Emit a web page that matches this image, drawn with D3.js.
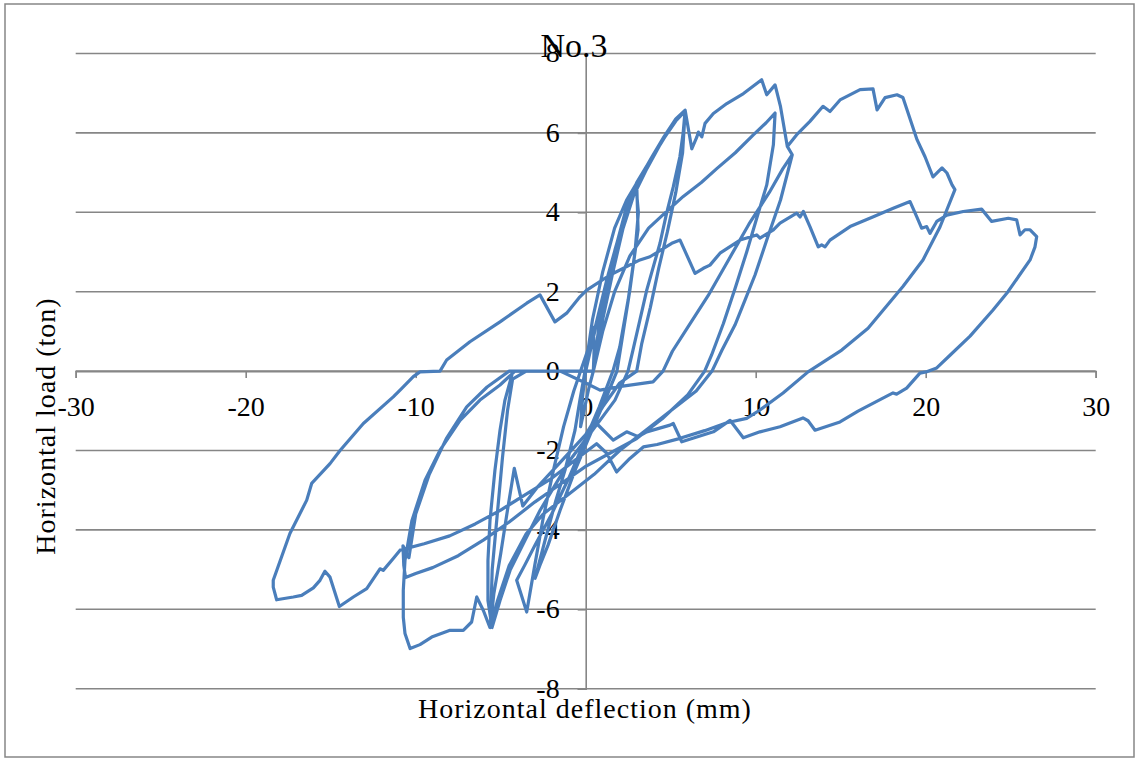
<!DOCTYPE html>
<html><head><meta charset="utf-8">
<script src="https://cdn.jsdelivr.net/npm/d3@7"></script>
<style>html,body{margin:0;padding:0;background:#fff;}svg{display:block;}</style>
</head><body>
<svg id="chart" width="1135" height="758"></svg>
<script>
// ---- data (deflection mm, load ton) ----
const title = "No.3";
const xLabel = "Horizontal deflection (mm)";
const yLabel = "Horizontal load (ton)";
const xTicks = [-30, -20, -10, 0, 10, 20, 30];
const yTicks = [-8, -6, -4, -2, 0, 2, 4, 6, 8];

const cycle0 = [[0,0],[0.25,0.6],[0.45,1.1],[0.5,0.6],[0.45,0],[0.2,-0.4],[-0.1,-1.0],[-0.3,-1.4],[-0.2,-0.7],[0,0]];
const cycleA = [[0,0],[0.55,1.03],[1.14,2.04],[1.72,3.05],[2.31,3.93],[2.72,4.44],[3.0,4.73],[3.08,3.56],[2.6,2.04],[2.13,0.78],[1.84,0],
  [1.14,-0.73],[0.37,-1.49],[-0.63,-2.5],[-1.51,-3.51],[-2.22,-4.39],[-2.69,-4.89],[-2.98,-5.22],
  [-2.39,-4.26],[-1.75,-3.25],[-1.22,-2.5],[-0.63,-1.49],[-0.34,-0.73],[-0.04,0]];
const cycleA2 = [[-0.04,0],[0.4,1.3],[1.0,2.5],[1.7,3.6],[2.4,4.3],[2.95,4.7],[3.1,4.0],[2.9,3.0],[2.5,1.8],[2.0,0.6],[1.6,0],
  [0.8,-0.9],[0,-1.7],[-1.0,-2.7],[-2.0,-3.6],[-3.0,-4.4],[-3.6,-4.9],[-4.06,-5.27],[-3.47,-6.07],
  [-3.0,-4.9],[-2.5,-3.7],[-1.9,-2.5],[-1.3,-1.4],[-0.7,-0.5],[-0.3,0]];
const cycleB1 = [[-0.3,0],[0.5,1.0],[1.24,2.3],[1.82,3.2],[2.41,4.14],[3.0,4.75],[3.78,5.3],[4.37,5.7],[5.15,6.24],[5.85,6.57],
  [5.73,5.99],[5.54,5.4],[5.15,4.64],[4.76,3.98],[4.37,3.22],[3.98,2.63],[3.59,2.04],[3.19,1.29],[2.78,0.53],[2.49,0],
  [1.72,-0.73],[0.84,-1.24],[-0.04,-1.74],[-0.92,-2.24],[-1.81,-2.88],[-2.69,-3.51],[-3.57,-4.26],[-4.45,-5.02],[-5.04,-5.78],[-5.51,-6.46],
  [-5.75,-5.78],[-5.75,-4.77],[-5.63,-3.76],[-5.34,-2.5],[-5.04,-1.49],[-4.75,-0.73],[-4.28,0],[0.45,0]];
const cycleB2 = [[0.45,0],[1.0,1.3],[1.6,2.5],[2.2,3.6],[2.8,4.4],[3.6,5.1],[4.5,5.8],[5.3,6.3],[5.85,6.55],
  [5.7,5.5],[5.3,4.5],[4.8,3.5],[4.3,2.6],[3.8,1.6],[3.3,0.7],[3.0,0],
  [2.0,-0.3],[1.0,-0.9],[0,-1.6],[-1.5,-2.3],[-2.8,-2.9],[-3.7,-3.4],[-4.2,-2.45],[-4.6,-3.5],[-5.0,-4.6],[-5.4,-5.6],[-5.6,-6.4],
  [-5.5,-5.0],[-5.2,-3.6],[-4.9,-2.2],[-4.6,-1.0],[-4.3,-0.2],[-3.5,0],[0.45,0]];
const cycleC1 = [[0.45,0],[0.8,1.2],[1.3,2.2],[1.9,3.2],[2.5,4.1],[3.1,4.8],[3.9,5.4],[4.6,5.9],[5.3,6.35],[5.85,6.57],
  [6.24,5.6],[6.54,5.9],[6.63,6.02],[6.83,5.9],[7.02,6.24],[7.51,6.49],[8.3,6.74],[9.28,6.99],[10.35,7.34],[10.65,6.96],[11.14,7.21],[11.46,6.66],[11.86,5.66],[12.15,5.45],
  [11.46,4.31],[10.65,3.3],[9.96,2.42],[9.37,1.79],[8.78,1.16],[8.02,0.53],[7.43,0],
  [6.5,-0.5],[5.0,-1.0],[3.5,-1.5],[2.0,-2.0],[0.5,-2.6],[-1,-3.1],[-2.5,-3.6],[-3.5,-4.1],[-4.5,-4.9],[-5.2,-5.8],[-5.63,-6.46],
  [-6.02,-6.03],[-6.41,-5.69],[-6.71,-6.32],[-7.2,-6.53],[-7.98,-6.53],[-9.06,-6.7],[-9.75,-6.89],[-10.33,-6.99],[-10.63,-6.61],[-10.73,-6.2],
  [-10.73,-5.52],[-10.63,-4.77],[-10.22,-3.76],[-9.45,-2.75],[-8.57,-1.99],[-7.39,-1.24],[-6.22,-0.73],[-5.04,-0.35],[-4.16,0],[0.45,0]];
const cycleC2 = [[0.45,0],[1.0,1.0],[1.7,2.0],[2.6,2.9],[3.7,3.6],[4.7,4.0],[5.74,4.4],[6.8,4.75],[7.71,5.1],[8.8,5.5],[9.86,5.95],[10.6,6.25],[11.14,6.5],
  [11.04,5.7],[10.65,4.69],[10.06,3.85],[9.47,3.0],[8.8,2.1],[8.1,1.2],[7.4,0.4],[7.0,0],
  [6,-0.6],[4.5,-1.2],[3.0,-1.7],[1.5,-2.05],[0,-2.4],[-1.5,-2.85],[-3,-3.3],[-4.5,-3.8],[-6,-4.25],[-7.5,-4.65],[-9,-4.95],[-10.0,-5.1],[-10.6,-5.2],
  [-10.7,-4.9],[-10.75,-4.4],[-10.4,-4.7],[-10.0,-3.6],[-9.2,-2.6],[-8.2,-1.7],[-7.0,-0.9],[-5.8,-0.4],[-4.5,0],[-1.5,0]];
const cycleD = [[-1.5,0],[0,-0.3],[0.84,-0.48],[2.18,-0.38],[3.96,-0.27],[4.55,0],[5.1,0.5],[6.0,1.1],[7.2,1.9],[8.4,2.8],[9.6,3.7],[10.8,4.5],[11.6,5.1],[12.15,5.45],
  [11.86,5.66],[12.4,5.95],[13.19,6.29],[13.96,6.67],[14.37,6.54],[14.96,6.83],[16.14,7.09],[16.9,7.11],[17.14,6.58],[17.61,6.89],[18.31,6.96],[18.66,6.89],
  [19.49,5.83],[19.96,5.4],[20.43,4.89],[20.96,5.12],[21.25,4.99],[21.55,4.69],[21.72,4.57],
  [20.84,3.63],[19.84,2.8],[18.66,2.13],[16.61,1.08],[15.06,0.53],[13.08,-0.02],[11.61,-0.55],[10.25,-0.98],[9.47,-1.19],
  [8.3,-1.3],[7.0,-1.5],[5.5,-1.7],[4.2,-1.85],[3.39,-1.91],[2.6,-2.2],[1.82,-2.54],[1.24,-2.07],[0.64,-1.83],[-0.5,-2.2],[-2,-2.7],[-3.5,-3.1],[-5,-3.5],
  [-6.5,-3.85],[-8,-4.15],[-9.5,-4.35],[-10.92,-4.51],[-11.32,-4.72],[-11.91,-5.02],[-12.1,-4.98],[-12.88,-5.48],[-13.67,-5.69],[-14.49,-5.93],
  [-15.04,-5.19],[-15.34,-5.04],[-15.63,-5.27],[-16.02,-5.46],[-16.71,-5.65],[-17.2,-5.69],[-18.18,-5.76],[-18.38,-5.44],[-18.38,-5.27],
  [-17.4,-4.09],[-16.41,-3.25],[-16.12,-2.83],[-15.04,-2.33],[-14.45,-2.0],[-13.08,-1.32],[-11.32,-0.65],[-10.92,-0.48],[-10.14,-0.14],[-9.75,-0.02],[-8.57,0]];
const cycleE = [[-8.57,0],[-8.18,0.28],[-6.81,0.74],[-5.04,1.24],[-3.47,1.71],[-2.88,1.87],[-2.69,1.92],[-1.81,1.24],[-1.12,1.46],[-0.34,1.87],[0.06,2.04],
  [1.43,2.42],[3.19,2.8],[3.78,2.88],[5.06,3.22],[5.55,3.3],[6.43,2.46],[6.92,2.59],[7.31,2.67],[7.9,2.97],[9.08,3.3],[10.06,3.43],[10.25,3.35],[11.04,3.56],
  [11.43,3.73],[12.41,3.98],[12.61,3.88],[12.8,4.02],[13.19,3.64],[13.68,3.13],[13.88,3.18],[14.08,3.13],[14.37,3.3],[15.55,3.64],[16.92,3.89],[18.09,4.1],
  [19.08,4.27],[19.47,3.89],[19.76,3.6],[20.06,3.64],[20.25,3.47],[20.65,3.77],[21.24,3.93],[22.21,4.02],[23.29,4.08],[23.88,3.77],[24.86,3.85],[25.35,3.81],
  [25.55,3.43],[25.84,3.56],[26.14,3.56],[26.53,3.39],
  [26.43,3.13],[26.14,2.8],[24.84,2.0],[23.96,1.54],[22.61,0.88],[21.43,0.4],[20.65,0.08],[20.02,-0.02],[19.66,-0.05],[18.88,-0.43],[18.29,-0.58],[18.08,-0.55],
  [17.71,-0.63],[16.02,-1.01],[14.96,-1.28],[13.49,-1.49],[13.08,-1.25],[12.78,-1.18],[11.43,-1.4],[10.25,-1.53],[9.27,-1.68],[8.49,-1.24],[7.51,-1.53],
  [5.65,-1.78],[5.15,-1.32],[4.96,-1.36],[3.59,-1.53],[3.09,-1.65],[2.41,-1.53],[1.62,-1.74],[0.64,-1.32]];

const cycles = [cycle0, cycleA, cycleA2, cycleB1, cycleB2, cycleC1, cycleC2, cycleD, cycleE];

// ---- layout ----
const svg = d3.select("#chart");
const x = d3.scaleLinear().domain([-30, 30]).range([75.7, 1095.7]);
const y = d3.scaleLinear().domain([-8, 8]).range([688.7, 53.5]);
const gridColor = "#868686";
const serif = "'Liberation Serif', 'Times New Roman', serif";

svg.append("rect").attr("x", 5).attr("y", 4).attr("width", 1129).attr("height", 753)
  .attr("fill", "#fff").attr("stroke", gridColor).attr("stroke-width", 1.5);

// horizontal gridlines
svg.append("g").selectAll("line").data(yTicks).join("line")
  .attr("x1", x(-30)).attr("x2", x(30))
  .attr("y1", d => y(d)).attr("y2", d => y(d))
  .attr("stroke", gridColor).attr("stroke-width", 1.6);

// x axis at y=0
const xAxis = d3.axisBottom(x).tickValues(xTicks).tickSize(7).tickPadding(18)
  .tickFormat(d => String(d));
const gx = svg.append("g").attr("transform", `translate(0,${y(0)})`).call(xAxis);
gx.select(".domain").attr("stroke", gridColor).attr("stroke-width", 1.6);
gx.selectAll(".tick line").attr("stroke", gridColor).attr("stroke-width", 1.6);
gx.selectAll(".tick text").attr("font-family", serif).attr("font-size", 28).attr("fill", "#000")
  .attr("dy", "0.71em");

// y axis at x=0
const yAxis = d3.axisLeft(y).tickValues(yTicks).tickSize(8).tickPadding(18)
  .tickFormat(d => String(d));
const gy = svg.append("g").attr("transform", `translate(${x(0)},0)`).call(yAxis);
gy.select(".domain").attr("stroke", gridColor).attr("stroke-width", 1.6);
gy.selectAll(".tick line").attr("stroke", gridColor).attr("stroke-width", 1.6);
gy.selectAll(".tick text").attr("font-family", serif).attr("font-size", 28).attr("fill", "#000")
  .attr("dy", "0.3em");

// data line
const line = d3.line().x(d => x(d[0])).y(d => y(d[1])).curve(d3.curveLinear);
const allPts = cycles.flat();
svg.append("path").datum(allPts)
  .attr("d", line).attr("fill", "none")
  .attr("stroke", "#4a7ebb").attr("stroke-width", 3.2)
  .attr("stroke-linejoin", "round").attr("stroke-linecap", "round");

// titles
svg.append("text").attr("x", 574).attr("y", 57).attr("text-anchor", "middle")
  .attr("font-family", serif).attr("font-size", 34).attr("fill", "#000").text(title);
svg.append("text").attr("x", 585).attr("y", 718).attr("text-anchor", "middle")
  .attr("font-family", serif).attr("font-size", 28).attr("letter-spacing", 1).attr("fill", "#000").text(xLabel);
svg.append("text").attr("transform", "translate(55,426) rotate(-90)").attr("text-anchor", "middle")
  .attr("font-family", serif).attr("font-size", 28).attr("letter-spacing", 1).attr("fill", "#000").text(yLabel);
</script>
</body></html>
